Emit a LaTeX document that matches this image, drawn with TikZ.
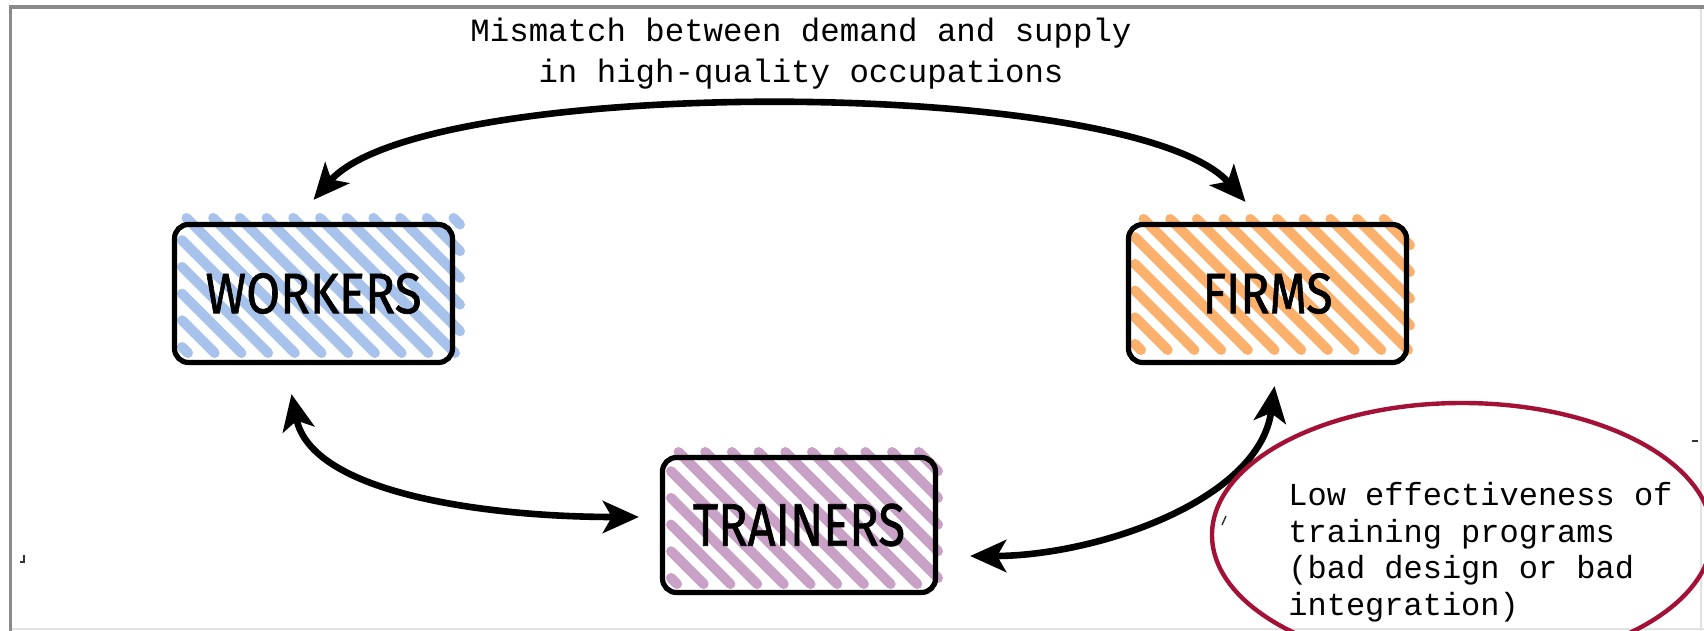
\documentclass[tikz,border=0pt]{standalone}
\usepackage{fontspec}
\usetikzlibrary{arrows.meta,shapes.geometric,calc}
\newfontfamily\monofont{Liberation Mono}
\newfontfamily\handfont{Fira Sans}[FakeBold=1.2]
\definecolor{workblue}{HTML}{A7C3EC}
\definecolor{firmorange}{HTML}{FBB06C}
\definecolor{trainmauve}{HTML}{C9A0C6}
\definecolor{issuered}{HTML}{A31236}
\definecolor{framegray}{HTML}{8A8A8A}
\definecolor{framelight}{HTML}{E2E2E2}

% Diagonal stripes with round ends inside a rectangle
% #1 left, #2 top, #3 right, #4 bottom (picture units, y downwards), #5 colour
\newcommand\hatchfill[5]{%
  \foreach \k in {0,...,26}{%
    \pgfmathsetmacro\cc{#1-#4+6+\k*26.7}%
    \pgfmathsetmacro\xs{max(#1,#2+\cc)}%
    \pgfmathsetmacro\xe{min(#3,#4+\cc)}%
    \pgfmathtruncatemacro\ok{\xe>\xs+2 ? 1 : 0}%
    \ifnum\ok=1 \draw[stripe,#5] ({\xs},{\xs-(\cc)}) -- ({\xe},{\xe-(\cc)});\fi
  }}

\tikzset{
  stripe/.style={line width=5pt, line cap=round},
  actor/.style={draw=black, line width=2.6pt, rounded corners=7pt, inner sep=0pt},
  conn/.style={line width=3.3pt,
    {Stealth[length=18pt,width=16pt,inset=4.5pt]}-{Stealth[length=18pt,width=16pt,inset=4.5pt]}},
  courier/.style={font=\monofont\fontsize{16.2pt}{20.5pt}\selectfont, inner sep=0pt},
  speck/.style={line width=0.7pt, black!80},
}

\begin{document}
\begin{tikzpicture}[x=0.5pt, y=-0.5pt]
  \useasboundingbox (0,0) rectangle (1704,631);
  \clip (0,0) rectangle (1704,631);
  \fill[white] (0,0) rectangle (1704,631);

  % frame
  \draw[framelight, line width=1pt] (1701,9) -- (1701,631);
  \draw[framelight, line width=1pt] (11,629) -- (1704,629);
  \draw[framegray, line width=2pt] (9,7) -- (1704,7);
  \draw[framegray, line width=1.5pt] (10.5,5) -- (10.5,631);

  % small specks
  \draw[speck] (24,555) -- (24,562) -- (20,562);
  \draw[speck] (1226,516) -- (1222,525);
  \draw[speck] (1692,441) -- (1698,441);

  % striped fills
  \hatchfill{182}{218}{460}{353}{workblue}
  \hatchfill{1135}{219}{1410}{350}{firmorange}
  \hatchfill{671}{452}{938}{584}{trainmauve}

  % actors
  \node[actor, minimum width=139pt, minimum height=69pt] (workers) at (313.5,293.5)
    {\resizebox{108pt}{20pt}{\handfont WORKERS}};
  \node[actor, minimum width=139pt, minimum height=69pt] (firms) at (1267.5,293.5)
    {\resizebox{65pt}{20pt}{\handfont FIRMS}};
  \node[actor, minimum width=136.5pt, minimum height=67.5pt] (trainers) at (799,525)
    {\resizebox{106pt}{21pt}{\handfont TRAINERS}};

  % connectors
  \draw[conn] ($(workers.north)+(0,-22)$) .. controls +(110,-126) and +(-110,-126) .. ($(firms.north)+(-22,-20)$);
  \draw[conn] ($(workers.south)+(-22,29)$) .. controls +(20,100) and +(-150,0) .. ($(trainers.west)+(-21,-8)$);
  \draw[conn] ($(trainers.east)+(32,31)$) .. controls +(125,0) and +(-15,115) .. ($(firms.south)+(7,21)$);

  % heading (anchored on the baseline of its last line)
  \node[courier, align=center, anchor=base] (title) at (801,83)
    {Mismatch between demand and supply\\in high-quality occupations};

  % highlighted issue
  \node[draw=issuered, line width=2.2pt, ellipse, minimum width=250pt, minimum height=132pt, inner sep=0pt]
    (issue) at (1462,535) {};
  \node[font=\monofont\fontsize{16pt}{18.2pt}\selectfont, inner sep=0pt, align=left, anchor=base west]
    (issuetext) at (1288,615)
    {Low effectiveness of\\training programs\\(bad design or bad\\integration)};
\end{tikzpicture}
\end{document}
